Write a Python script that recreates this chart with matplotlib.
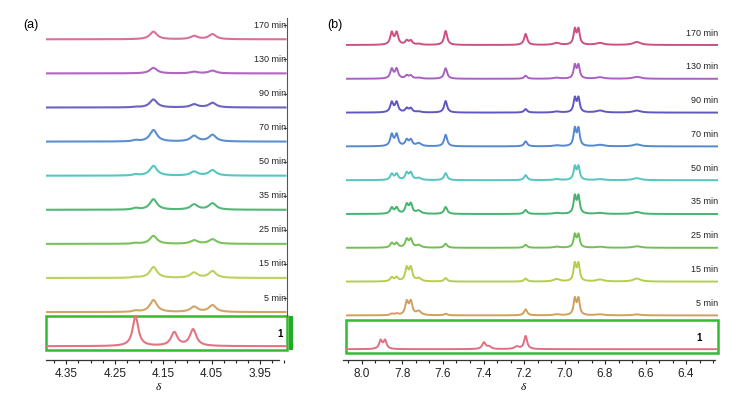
import numpy as np
import matplotlib
matplotlib.use("Agg")
import matplotlib.pyplot as plt
from matplotlib.patches import Rectangle
from matplotlib.ticker import MultipleLocator

plt.rcParams['font.family'] = ['Liberation Sans', 'DejaVu Sans']

# ===================================== Data
times = ["170 min", "130 min", "90 min", "70 min", "50 min",
         "35 min", "25 min", "15 min", "5 min", "1"]
colors = ["#d8709c", "#b066c0", "#6c62c4", "#5b8fd0", "#55c6c2",
          "#52b877", "#7cc25c", "#bad25e", "#d4a467", "#e07682"]
colors_b = ["#cc4f86", "#aa60bf", "#6058c0", "#5588ce", "#55c6bf",
            "#45b46e", "#74bf55", "#b4ce50", "#cfa060", "#de7080"]

# panel (a): peak centres (ppm), half widths, heights per spectrum
peaks_a = [4.207, 4.127, 4.088, 4.170, 4.086, 4.048]
widths_a = [0.007, 0.008, 0.008, 0.009, 0.009, 0.009]
heights_a = [
    [0.0, 0.0, 0.0, 7.6, 3.2, 5.0],     # 170 min
    [0.0, 0.0, 0.0, 5.5, 1.6, 2.7],     # 130 min
    [0.5, 0.0, 0.0, 8.0, 3.1, 4.6],     # 90 min
    [1.2, 0.0, 0.0, 11.5, 5.6, 6.6],    # 70 min
    [1.2, 0.0, 0.0, 9.8, 4.0, 5.4],     # 50 min
    [1.6, 0.0, 0.0, 10.5, 5.2, 6.4],    # 35 min
    [0.8, 0.0, 0.0, 8.0, 3.5, 4.6],     # 25 min
    [0.8, 0.0, 0.0, 11.0, 5.2, 6.8],    # 15 min
    [1.2, 0.0, 0.0, 12.0, 5.2, 6.8],    # 5 min
    [30.0, 13.5, 16.5, 0.0, 0.0, 0.0],  # 1
]

# panel (b)
peaks_b = [7.853, 7.829, 7.779, 7.759, 7.720, 7.587, 7.192, 7.039,
           6.949, 6.931, 6.825, 6.643, 7.908, 7.886, 7.398, 7.373, 7.236]
widths_b = [0.009, 0.009, 0.009, 0.009, 0.014, 0.009, 0.009, 0.018,
            0.0075, 0.0075, 0.022, 0.022, 0.009, 0.009, 0.01, 0.012, 0.014]
heights_b = [
    [12, 12, 4, 4, 1, 14, 11, 2, 15, 15, 2, 3, 0, 0, 0, 0, 0],
    [9.5, 9.5, 3, 3, 1, 10.5, 3, 1, 13, 13, 1.5, 2, 0, 0, 0, 0, 0],
    [10, 10, 4, 4, 1, 11.5, 3.5, 1, 14, 14, 2, 2, 0, 0, 0, 0, 0],
    [11.5, 11.5, 6, 6, 3, 11.5, 5, 1, 17, 17, 1.5, 2, 0, 0, 0, 0, 0],
    [6, 6, 7, 7, 2, 7, 5, 1, 13, 13, 1, 2, 0, 0, 0, 0, 0],
    [6, 6, 9, 9.5, 3, 7, 4, 1, 17, 17, 1, 2, 0, 0, 0, 0, 0],
    [4.5, 4.5, 8, 8, 2.5, 4, 3, 1, 12.5, 12.5, 1, 1.5, 0, 0, 0, 0, 0],
    [4, 4, 13, 13, 3, 3.5, 3, 2.5, 17, 17, 2, 3, 0, 0, 0, 0, 0],
    [1.5, 1.5, 13, 13, 4, 1.5, 6, 1, 16, 16, 1, 1, 0, 0, 0, 0, 0],
    [0, 0, 0, 0, 0, 0, 13, 0, 0, 0, 0, 0, 8.5, 8.5, 6.5, 2.5, 2.5],
]


def spectrum(x, centres, widths, heights):
    y = np.zeros_like(x)
    for c, w, h in zip(centres, widths, heights):
        y += h / (1 + ((x - c) / w) ** 2)
    return y


# ===================================== Figure
W, H = 736, 393
fig = plt.figure(figsize=(W / 100, H / 100), dpi=100)


def make_axes(px_left, px_right, xlim):
    ax = fig.add_axes([px_left / W, (H - 360) / H, (px_right - px_left) / W, 348 / H])
    ax.set_xlim(*xlim)
    ax.set_ylim(360, 12)
    for s in ['top', 'left']:
        ax.spines[s].set_visible(False)
    ax.set_yticks([])
    ax.tick_params(axis='x', which='both', direction='out', labelsize=8.5,
                   pad=2.5, colors='#222222')
    ax.tick_params(axis='x', which='major', length=3, width=0.8)
    ax.tick_params(axis='x', which='minor', length=2, width=0.8)
    ax.spines['bottom'].set_color('#333333')
    ax.spines['bottom'].set_linewidth(0.9)
    return ax


# ---- panel (a)
ax = make_axes(46, 287, (4.392, 3.894))
base0, step = 39.3, 34.1
x = np.linspace(4.392, 3.897, 1500)
for i, lab in enumerate(times):
    b = base0 + i * step
    ax.plot(x, b - spectrum(x, peaks_a, widths_a, heights_a[i]), color=colors[i], lw=1.5)
    if i < len(times) - 1:
        ax.text(3.8955, b - 14, lab, ha='right', va='center', fontsize=6.5, color='#222222')
ax.text(3.908, 334, "1", ha='center', va='center', fontsize=7, fontweight='bold')
ax.add_patch(Rectangle((3.8945, 316), 4.3915 - 3.8945, 34, fill=False,
                       edgecolor='#33bb33', lw=1.8, clip_on=False))
ax.plot([3.886, 3.886], [316, 350], color='#22aa22', lw=3, clip_on=False,
        solid_capstyle='butt')
ax.spines['right'].set_bounds(316, 18)
ax.spines['right'].set_color('#555555')
ax.yaxis.set_ticks_position('right')
ax.set_yticks([base0 + i * step - 14 for i in range(len(times) - 1)])
ax.set_yticklabels([])
ax.tick_params(axis='y', direction='in', length=3, width=0.8, colors='#555555')
ax.spines['bottom'].set_bounds(4.392, 3.91)
ax.set_xticks([4.35, 4.25, 4.15, 4.05, 3.95])
ax.xaxis.set_minor_locator(MultipleLocator(0.025))
ax.set_xticklabels(["4.35", "4.25", "4.15", "4.05", "3.95"])

# ---- panel (b)
ax = make_axes(346, 718, (8.079, 6.242))
base0, step = 45.0, 33.8
x = np.linspace(8.079, 6.242, 3000)
for i, lab in enumerate(times):
    b = base0 + i * step
    ax.plot(x, b - spectrum(x, peaks_b, widths_b, heights_b[i]), color=colors_b[i], lw=1.4)
    if i < len(times) - 1:
        ax.text(6.242, b - 12, lab, ha='right', va='center', fontsize=6.5, color='#222222')
ax.text(6.336, 338, "1", ha='center', va='center', fontsize=7, fontweight='bold')
ax.add_patch(Rectangle((6.243, 319.5), 8.078 - 6.243, 33, fill=False,
                       edgecolor='#33bb33', lw=1.8, clip_on=False))
ax.spines['right'].set_visible(False)
ax.spines['bottom'].set_bounds(8.095, 6.255)
ax.set_xticks([8.0, 7.8, 7.6, 7.4, 7.2, 7.0, 6.8, 6.6, 6.4])
ax.xaxis.set_minor_locator(MultipleLocator(0.2 / 3))
ax.set_xticklabels(["8.0", "7.8", "7.6", "7.4", "7.2", "7.0", "6.8", "6.6", "6.4"])

# ---- labels
fig.text(23 / W, 1 - 25 / H, "(a)", fontsize=9, va='center', ha='left')
fig.text(327 / W, 1 - 25 / H, "(b)", fontsize=9, va='center', ha='left')
fig.text(158 / W, 1 - 387.5 / H, "\u03b4", fontsize=8, style='italic',
         family=['Liberation Serif', 'DejaVu Serif'], ha='center', va='center')
fig.text(523 / W, 1 - 387.5 / H, "\u03b4", fontsize=8, style='italic',
         family=['Liberation Serif', 'DejaVu Serif'], ha='center', va='center')

fig.savefig("out.png", dpi=100)
